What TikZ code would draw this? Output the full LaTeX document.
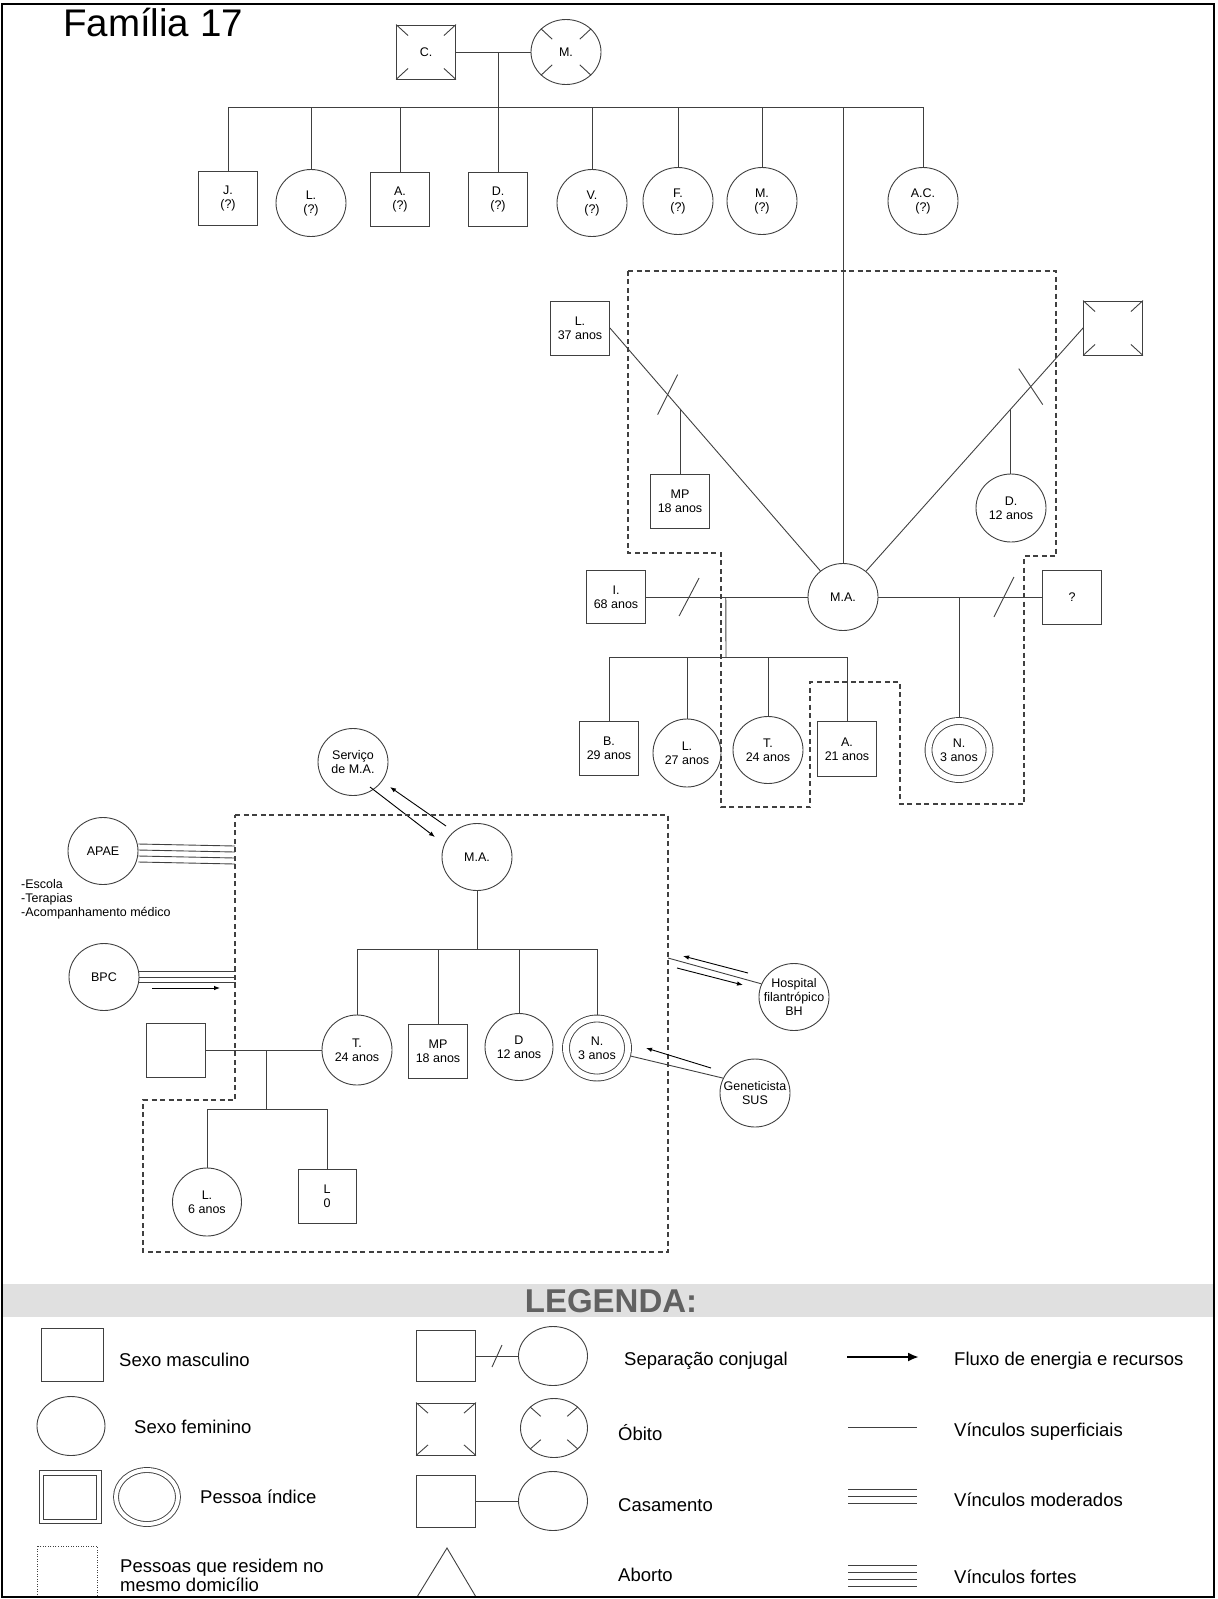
\documentclass[tikz,border=0pt]{standalone}
\usepackage{fontspec}
\setmainfont{Liberation Sans}
\usetikzlibrary{arrows.meta,shapes.geometric,calc}
\definecolor{traco}{gray}{0.25}
\definecolor{faixa}{gray}{0.88}
\definecolor{cinzaleg}{gray}{0.38}
\newcommand\rotulo{\fontsize{12.5}{14}\selectfont}
\newcommand\legfonte{\fontsize{18.5}{19}\selectfont}
\tikzset{
  linha/.style={draw=traco,line width=0.9pt},
  pessoa/.style={linha,align=center,inner sep=0pt,font=\rotulo},
  masc/.style={pessoa,rectangle,minimum width=59pt,minimum height=54pt},
  fem/.style={pessoa,ellipse,minimum width=70pt,minimum height=67pt},
  indice/.style={double=white,double distance=6pt,outer sep=3.9pt},
  legindice/.style={double=white,double distance=4pt},
  casa/.style={draw=traco,line width=1.1pt,dash pattern=on 5pt off 3.5pt},
  fluxo/.style={draw=black,line width=0.9pt,-{Latex[length=6pt,width=4.5pt]}},
  legtexto/.style={anchor=west,font=\legfonte,align=left,inner sep=0pt}
}
\newcommand\marcasobito[2]{%
  \foreach \canto in {north east,north west,south east,south west}
    \draw[linha] (#1.\canto) -- ($(#1.\canto)!#2!(#1.center)$);}
\newcommand\corte[3]{\draw[linha] ($(#1)+(#2,#3)$) -- ($(#1)-(#2,#3)$);}

\begin{document}
\begin{tikzpicture}[x=1pt,y=-1pt]
\useasboundingbox (0,0) rectangle (1218,1599);
\node[anchor=base west,font=\fontsize{38.5}{40}\selectfont,inner sep=0pt] (titulo) at (63,36) {Família 17};

% avos e filhos
\node[masc] (cpai) at (426,52) {C.};
\node[fem,minimum height=65pt] (mmae) at (566,52) {M.};
\marcasobito{cpai}{0.4}
\marcasobito{mmae}{0.45}
\draw[linha] (cpai) -- (mmae);
\coordinate (g1) at (498,52);
\coordinate (s1) at (498,107);
\draw[linha] (g1) -- (s1);
\node[masc] (jf) at (228,198) {J.\\(?)};
\node[fem] (lf) at (311,203) {L.\\(?)};
\node[masc] (af) at (400,199) {A.\\(?)};
\node[masc] (df) at (498,199) {D.\\(?)};
\node[fem] (vf) at (592,203) {V.\\(?)};
\node[fem] (ff) at (678,201) {F.\\(?)};
\node[fem] (mf) at (762,201) {M.\\(?)};
\node[fem] (acf) at (923,201) {A.C.\\(?)};
\draw[linha] (jf.north |- s1) -- (acf.north |- s1);
\foreach \filho in {jf,lf,af,df,vf,ff,mf,acf}
  \draw[linha] (\filho.north) -- (\filho.north |- s1);

% M.A. e companheiros
\node[fem] (ma) at (843,597) {M.A.};
\draw[linha] (ma.north |- s1) -- (ma.north);
\node[masc] (lpai) at (580,328) {L.\\37 anos};
\node[masc] (morto) at (1113,328) {};
\marcasobito{morto}{0.4}
\draw[linha] (lpai.east) -- coordinate[pos=0.274] (corteL) coordinate[pos=0.335] (uniaoL) (ma);
\draw[linha] (morto.west) -- coordinate[pos=0.241] (corteM) coordinate[pos=0.333] (uniaoM) (ma);
\corte{corteL}{10}{-20}
\corte{corteM}{-12}{-18}
\node[masc] (mp1) at (680,501) {MP\\18 anos};
\node[fem,minimum height=68pt] (d1) at (1011,508) {D.\\12 anos};
\draw[linha] (uniaoL) -- (uniaoL |- mp1.north);
\draw[linha] (uniaoM) -- (uniaoM |- d1.north);

\node[masc,minimum height=53pt] (ipai) at (616,597) {I.\\68 anos};
\draw[linha] (ipai) -- coordinate[pos=0.267] (corteI) coordinate[pos=0.494] (g2) (ma);
\corte{corteI}{10}{-19}
\coordinate (s2) at (726,657);
\draw[linha] (g2) -- (s2);
\node[masc] (bf) at (609,748) {B.\\29 anos};
\node[fem,minimum width=68pt,minimum height=68pt] (lf2) at (687,753) {L.\\27 anos};
\node[fem] (tf) at (768,750) {T.\\24 anos};
\node[masc,minimum height=55pt] (af2) at (847,749) {A.\\21 anos};
\draw[linha] (bf.north |- s2) -- (af2.north |- s2);
\foreach \filho in {bf,lf2,tf,af2}
  \draw[linha] (\filho.north) -- (\filho.north |- s2);

\node[masc] (qpai) at (1072,597) {?};
\draw[linha] (ma) -- coordinate[pos=0.494] (g3) coordinate[pos=0.767] (corteQ) (qpai);
\corte{corteQ}{10}{-20}
\node[fem,indice,minimum width=61pt,minimum height=58pt] (n1) at (959,750) {N.\\3 anos};
\draw[linha] (g3) -- (g3 |- n1.north);

\draw[casa] (628,271) -- (1056,271) -- (1056,556) -- (1024,556) -- (1024,804) -- (900,804)
  -- (900,682) -- (810,682) -- (810,807) -- (721,807) -- (721,553) -- (628,553) -- cycle;

% ecomapa
\node[fem] (serv) at (353,762) {Serviço\\de M.A.};
\node[fem] (ma2) at (477,857) {M.A.};
\draw[fluxo] ($(serv)+(17,25)$) -- ($(ma2)+(-42,-20)$);
\draw[fluxo] ($(ma2)+(-31,-31)$) -- ($(serv)+(37,25)$);
\draw[casa] (235,815) -- (668,815) -- (668,1252) -- (143,1252) -- (143,1100) -- (235,1100) -- cycle;

\coordinate (s3) at (477,949);
\draw[linha] (ma2) -- (s3);
\node[fem,minimum height=70pt] (t2) at (357,1050) {T.\\24 anos};
\node[masc] (mp2) at (438,1051) {MP\\18 anos};
\node[fem,minimum width=68pt] (d2) at (519,1047) {D\\12 anos};
\node[fem,indice,minimum width=62pt,minimum height=59pt] (n2) at (597,1048) {N.\\3 anos};
\draw[linha] (t2.north |- s3) -- (n2.north |- s3);
\foreach \filho in {t2,mp2,d2,n2}
  \draw[linha] (\filho.north) -- (\filho.north |- s3);

\node[masc] (parc) at (176,1050) {};
\draw[linha] (parc) -- (t2);
\coordinate (g4) at (266,1050);
\coordinate (s4) at (266,1109);
\draw[linha] (g4) -- (s4);
\node[fem,minimum width=69pt,minimum height=68pt] (l2) at (207,1202) {L.\\6 anos};
\node[masc,minimum width=58pt] (l0) at (327,1196) {L\\0};
\draw[linha] (l2.north |- s4) -- (l0.north |- s4);
\foreach \filho in {l2,l0}
  \draw[linha] (\filho.north) -- (\filho.north |- s4);

\node[fem] (apae) at (103,851) {APAE};
\node[anchor=west,align=left,font=\rotulo,inner sep=0pt] (servicos) at (21,899)
  {-Escola\\-Terapias\\-Acompanhamento médico};
\coordinate (bordaA) at (235,853);
\foreach \d in {7,1,-5,-11}
  \draw[linha] ([yshift=\d pt]apae.east) -- ([yshift=\d pt]bordaA);
\node[fem] (bpc) at (104,977) {BPC};
\coordinate (bordaB) at (236,977);
\foreach \d in {5.5,0,-5.5}
  \draw[linha] ([yshift=\d pt]bpc.east) -- ([yshift=\d pt]bordaB);
\draw[fluxo] ($(bpc)+(48,11)$) -- ($(bpc)+(116,11)$);

\node[fem,label={[font=\rotulo,align=center]center:{Hospital\\filantrópico\\BH}}] (hosp) at (794,997) {};
\coordinate (bordaH) at (668,958);
\draw[linha] (hosp.158) -- (bordaH);
\draw[fluxo] ($(hosp)+(-46,-24)$) -- ($(hosp)+(-111,-41)$);
\draw[fluxo] ($(hosp)+(-117,-29)$) -- ($(hosp)+(-51,-12)$);

\node[fem,minimum height=68pt,label={[font=\rotulo,align=center]center:{Geneticista\\SUS}}] (genet) at (755,1093) {};
\draw[linha] (genet.155) -- (n2);
\draw[fluxo] ($(genet)+(-44,-25)$) -- ($(n2)+(49,0)$);

% legenda
\fill[faixa] (3,1284) rectangle (1213,1317);
\node[font=\fontsize{33}{33}\selectfont\bfseries,text=cinzaleg] (legenda) at (611,1301) {LEGENDA:};

\node[masc,minimum width=62pt,minimum height=53pt] (lmasc) at (72,1355) {};
\node[legtexto] (tmasc) at (119,1360) {Sexo masculino};
\node[masc,minimum height=51pt] (lsepq) at (446,1356) {};
\node[fem,minimum width=69pt,minimum height=59pt] (lsepc) at (553,1356) {};
\draw[linha] (lsepq) -- coordinate[pos=0.5] (lcorte) (lsepc);
\corte{lcorte}{5}{-11}
\node[legtexto] (tsep) at (624,1361) {Separação conjugal};
\coordinate (lfluxoA) at (847,1357);
\coordinate (lfluxoB) at (919,1357);
\draw[black,line width=2.4pt,-{Latex[length=11pt,width=9pt]}] (lfluxoA) -- (lfluxoB);
\node[legtexto] (tfluxo) at (954,1361) {Fluxo de energia e recursos};

\node[fem,minimum width=68pt,minimum height=59pt] (lfem) at (71,1426) {};
\node[legtexto] (tfem) at (134,1427) {Sexo feminino};
\node[masc,minimum height=52pt] (lobq) at (446,1429) {};
\node[fem,minimum width=67pt,minimum height=59pt] (lobc) at (554,1428) {};
\marcasobito{lobq}{0.4}
\marcasobito{lobc}{0.45}
\node[legtexto] (tobito) at (618,1433) {Óbito};
\coordinate (lsupA) at (848,1427);
\coordinate (lsupB) at (917,1427);
\draw[linha] (lsupA) -- (lsupB);
\node[legtexto] (tsup) at (954,1432) {Vínculos superficiais};

\node[masc,minimum width=62pt,minimum height=53pt] (lindq) at (70,1497) {};
\node[masc,minimum width=53pt,minimum height=44pt] (lindqi) at (lindq) {};
\node[fem,legindice,minimum width=62pt,minimum height=54pt] (lindc) at (147,1497) {};
\node[legtexto] (tind) at (200,1497) {Pessoa índice};
\node[masc,minimum height=52pt] (lcasq) at (446,1501) {};
\node[fem,minimum width=69pt,minimum height=59pt] (lcasc) at (553,1501) {};
\draw[linha] (lcasq) -- (lcasc);
\node[legtexto] (tcas) at (618,1505) {Casamento};
\coordinate (lmodA) at (848,1496);
\coordinate (lmodB) at (917,1496);
\foreach \d in {7,0,-7}
  \draw[linha] ([yshift=\d pt]lmodA) -- ([yshift=\d pt]lmodB);
\node[legtexto] (tmod) at (954,1500) {Vínculos moderados};

\draw[linha,line width=0.8pt,dash pattern=on 1pt off 1.5pt] (37,1546) rectangle (97,1597);
\node[legtexto] (tdom) at (120,1575) {Pessoas que residem no\\mesmo domicílio};
\draw[linha] (447,1548) -- (476,1597) -- (417,1597) -- cycle;
\node[legtexto] (tabo) at (618,1575) {Aborto};
\coordinate (lforA) at (848,1575.5);
\coordinate (lforB) at (917,1575.5);
\foreach \d in {10.5,3.5,-3.5,-10.5}
  \draw[linha] ([yshift=\d pt]lforA) -- ([yshift=\d pt]lforB);
\node[legtexto] (tfor) at (954,1577) {Vínculos fortes};

\draw[black,line width=1.4pt] (2,4) rectangle (1214,1597);
\end{tikzpicture}
\end{document}
